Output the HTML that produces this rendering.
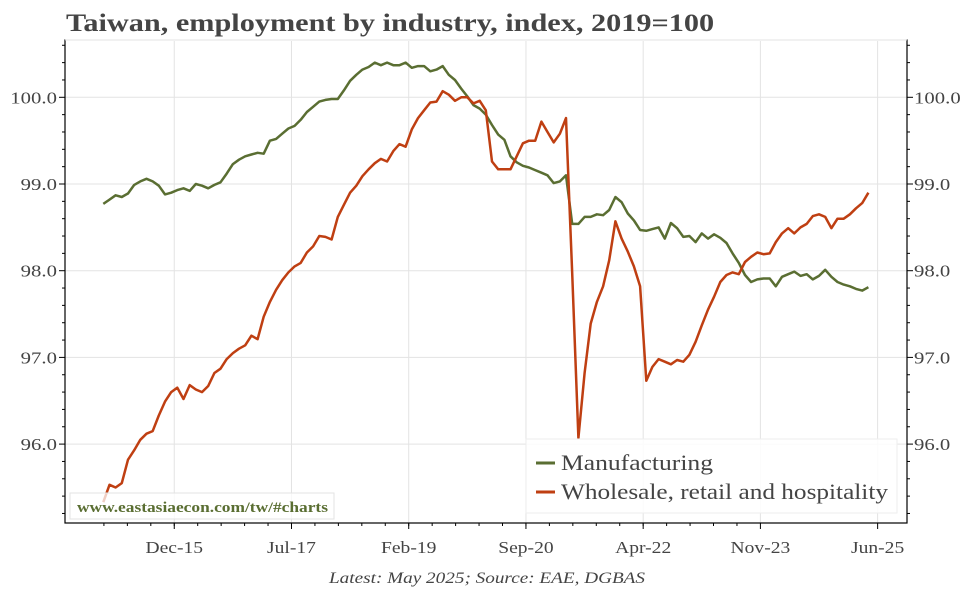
<!DOCTYPE html>
<html><head><meta charset="utf-8"><style>
html,body{margin:0;padding:0;background:#fff;}
svg{display:block;font-family:"Liberation Serif",serif;}
</style></head><body>
<svg id="chart" width="972" height="589" viewBox="0 0 972 589" xmlns="http://www.w3.org/2000/svg">
<text id="title" x="66" y="31" font-size="25" font-weight="bold" fill="#444">Taiwan, employment by industry, index, 2019=100</text>
<g id="grid"></g>
<g id="axes"></g>
<g id="series"></g>
<g id="overlay"></g>
<text id="source" x="487" y="583" text-anchor="middle" font-size="16" font-style="italic" fill="#444">Latest: May 2025; Source: EAE, DGBAS</text>
</svg>
<script>
const manufacturing=[98.77,98.82,98.87,98.85,98.89,98.99,99.03,99.06,99.03,98.98,98.88,98.90,98.93,98.95,98.92,99.00,98.98,98.95,98.99,99.02,99.12,99.23,99.28,99.32,99.34,99.36,99.35,99.50,99.52,99.58,99.64,99.67,99.74,99.83,99.89,99.95,99.97,99.98,99.98,100.08,100.19,100.26,100.32,100.35,100.40,100.37,100.40,100.37,100.37,100.40,100.34,100.36,100.36,100.30,100.32,100.36,100.26,100.20,100.10,100.01,99.91,99.87,99.80,99.68,99.57,99.51,99.32,99.25,99.21,99.19,99.16,99.13,99.10,99.01,99.03,99.10,98.54,98.54,98.62,98.62,98.65,98.64,98.70,98.85,98.79,98.66,98.58,98.47,98.46,98.48,98.50,98.37,98.55,98.49,98.39,98.40,98.33,98.43,98.37,98.42,98.38,98.32,98.20,98.09,97.95,97.87,97.90,97.91,97.91,97.82,97.93,97.96,97.99,97.94,97.96,97.90,97.94,98.01,97.93,97.87,97.84,97.82,97.79,97.77,97.81];
const wholesale=[95.33,95.53,95.50,95.55,95.82,95.93,96.05,96.12,96.15,96.33,96.49,96.60,96.65,96.52,96.68,96.63,96.60,96.67,96.82,96.87,96.98,97.05,97.10,97.14,97.25,97.21,97.47,97.64,97.78,97.89,97.98,98.05,98.09,98.21,98.28,98.40,98.39,98.36,98.62,98.76,98.90,98.98,99.09,99.17,99.24,99.29,99.26,99.38,99.46,99.43,99.63,99.76,99.85,99.94,99.95,100.07,100.03,99.96,100.00,100.00,99.93,99.96,99.85,99.26,99.17,99.17,99.17,99.32,99.47,99.50,99.50,99.72,99.60,99.48,99.58,99.76,97.97,96.07,96.82,97.39,97.64,97.82,98.12,98.57,98.37,98.22,98.05,97.82,96.73,96.89,96.98,96.95,96.92,96.97,96.95,97.03,97.18,97.37,97.55,97.70,97.87,97.95,97.98,97.96,98.10,98.16,98.21,98.19,98.20,98.33,98.43,98.49,98.43,98.50,98.54,98.63,98.65,98.62,98.49,98.60,98.60,98.65,98.72,98.78,98.90];
const xTickLabels=["Dec-15","Jul-17","Feb-19","Sep-20","Apr-22","Nov-23","Jun-25"];
const xTickMonths=[11,30,49,68,87,106,125];
const yTicks=[96,97,98,99,100];
const yTickLabels=["96.0","97.0","98.0","99.0","100.0"];

const L=65,R=907,T=40,B=523;
const NS="http://www.w3.org/2000/svg";
function xs(i){return 103.3+i*6.17;}
function ys(v){return 97.3-(v-100)*86.7;}
function mk(tag,attrs,parent){const e=document.createElementNS(NS,tag);for(const k in attrs)e.setAttribute(k,attrs[k]);parent.appendChild(e);return e;}
function stretch(el,f){const w=el.getComputedTextLength();el.setAttribute('textLength',(w*f).toFixed(1));el.setAttribute('lengthAdjust','spacingAndGlyphs');}
const grid=document.getElementById('grid'),axes=document.getElementById('axes'),series=document.getElementById('series'),ov=document.getElementById('overlay');

stretch(document.getElementById('title'),1.21);
stretch(document.getElementById('source'),1.2);

yTicks.forEach((v,k)=>{
  const y=ys(v);
  const g=mk('line',{x1:L,x2:R,y1:y,y2:y,stroke:'#e3e3e3','stroke-width':1},grid);
  
  
  const tl=mk('text',{x:57,y:y+6,'text-anchor':'end','font-size':17,fill:'#444'},axes);
  tl.textContent=yTickLabels[k];
  
  
  stretch(tl,1.22);
  const tr=mk('text',{x:914,y:y+6,'text-anchor':'start','font-size':17,fill:'#444'},axes);
  tr.textContent=yTickLabels[k];
  
  
  stretch(tr,1.22);
});
for(let v=95.2;v<=100.61;v+=0.2){
  const y=ys(v);const major=Math.abs(v-Math.round(v))<0.01;
  const len=major?6:3;
  mk('line',{x1:L-len,x2:L,y1:y,y2:y,stroke:'#000','stroke-width':1},axes);
  mk('line',{x1:R,x2:R+len,y1:y,y2:y,stroke:'#000','stroke-width':1},axes);
}
xTickMonths.forEach((m,k)=>{
  const x=xs(m+0.5);
  const g=mk('line',{x1:x,x2:x,y1:T,y2:B,stroke:'#e3e3e3','stroke-width':1},grid);
  
  
  mk('line',{x1:x,x2:x,y1:B,y2:B+6,stroke:'#000','stroke-width':1},axes);
  const t=mk('text',{x:x,y:553,'text-anchor':'middle','font-size':17,fill:'#444'},axes);
  t.textContent=xTickLabels[k];
  
  
  stretch(t,1.15);
});
for(let k=-3;k<=24;k++){
  const m=11.5+k*3.8;const x=xs(m);
  if(x<L+2||x>R-2)continue;
  mk('line',{x1:x,x2:x,y1:B,y2:B+3,stroke:'#000','stroke-width':1},axes);
}
const frame=mk('rect',{x:L,y:T,width:R-L,height:B-T,fill:'none',stroke:'#000','stroke-width':1.2},axes);


mk('rect',{x:L+1,y:T-1,width:R-L-2,height:2,fill:'#fff'},axes);
mk('line',{x1:L,x2:R,y1:T,y2:T,stroke:'#e3e3e3','stroke-width':1},axes);

function path(arr,color,name){
  const d=arr.map((v,i)=>(i?'L':'M')+xs(i).toFixed(1)+','+ys(v).toFixed(1)).join('');
  const p=mk('path',{d:d,fill:'none',stroke:color,'stroke-width':2.5,'stroke-linejoin':'round'},series);
  
  
}
path(manufacturing,'#5a6e32','manufacturing-line');
path(wholesale,'#bf3f12','wholesale-line');

const wm=mk('rect',{x:70,y:493,width:264,height:26,fill:'rgba(255,255,255,0.75)',stroke:'#e3e3e3'},ov);


const wt=mk('text',{x:77,y:512,'font-size':14.5,'font-weight':'bold',fill:'#5a6e32'},ov);
wt.textContent='www.eastasiaecon.com/tw/#charts';


wt.setAttribute('textLength','251');
wt.setAttribute('lengthAdjust','spacingAndGlyphs');

const lg=mk('rect',{x:526,y:439,width:371,height:74,fill:'rgba(255,255,255,0.85)',stroke:'#eee'},ov);


[['Manufacturing','#5a6e32',463,152],['Wholesale, retail and hospitality','#bf3f12',492,327]].forEach(([lab,c,y,w])=>{
  const s=mk('line',{x1:536,x2:555,y1:y,y2:y,stroke:c,'stroke-width':3},ov);
  
  
  const t=mk('text',{x:561,y:y+7,'font-size':22,fill:'#444',textLength:w,lengthAdjust:'spacingAndGlyphs'},ov);
  t.textContent=lab;
  
  
});
</script>
</body></html>
